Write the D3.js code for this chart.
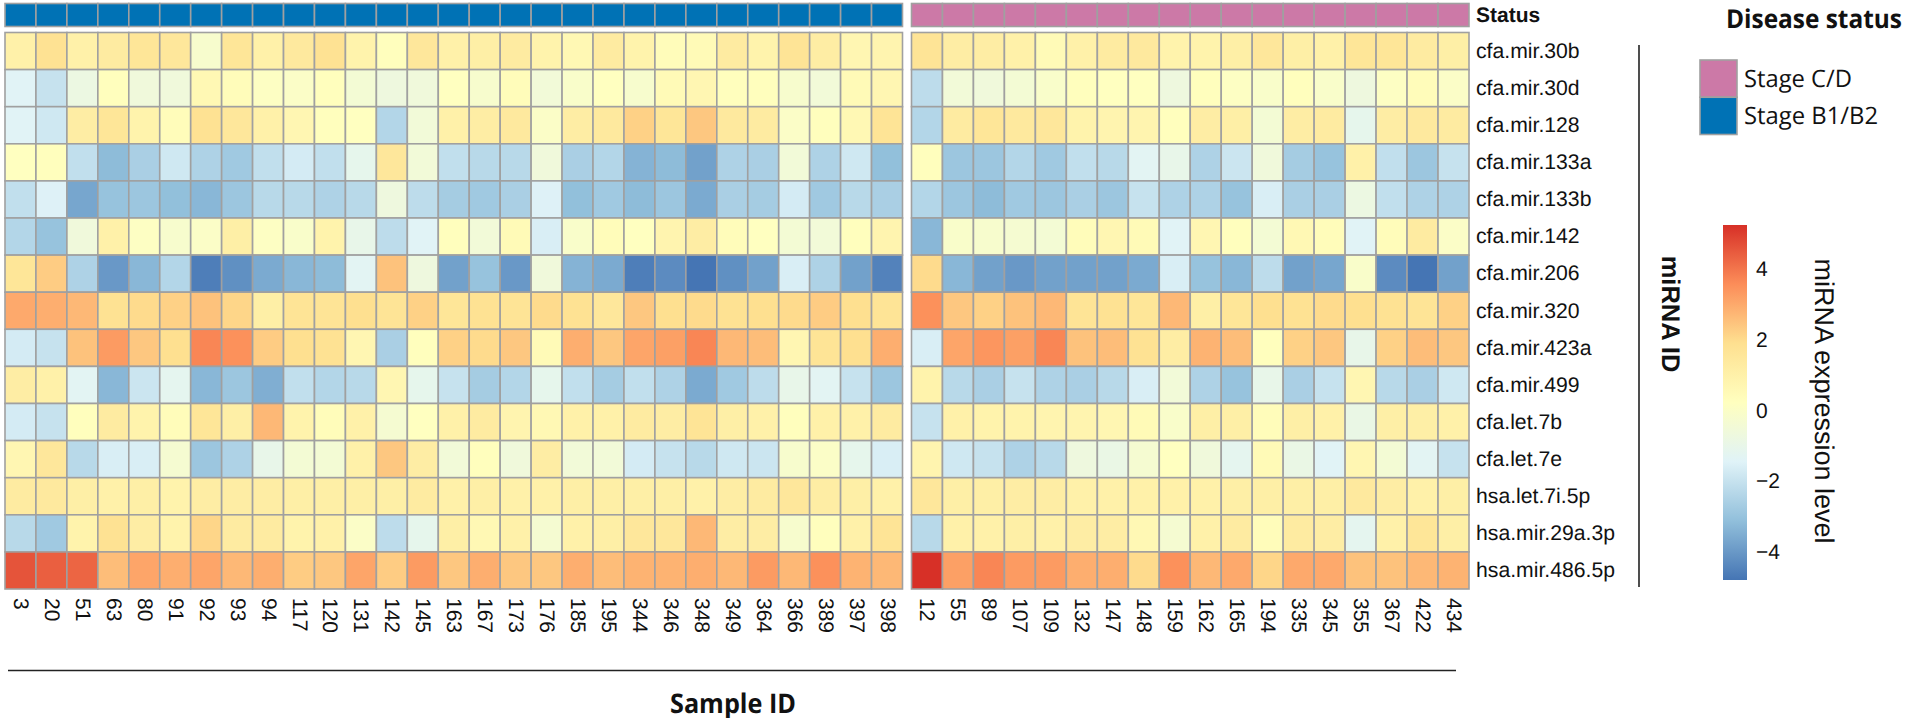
<!DOCTYPE html>
<html>
<head>
<meta charset="utf-8">
<script src="https://cdn.jsdelivr.net/npm/d3@7"></script>
<style>
  html, body { margin: 0; padding: 0; background: #fff; }
  svg { display: block; }
  text { font-family: "Liberation Sans", Arial, sans-serif; fill: #111; text-rendering: geometricPrecision; }
  .label-bold { font-family: "Open Sans", sans-serif; font-weight: 700; }
  .label-legend { font-family: "Open Sans", sans-serif; }
</style>
</head>
<body>
<svg id="chart" width="1908" height="718"></svg>
<script>
const mirnas = ['cfa.mir.30b', 'cfa.mir.30d', 'cfa.mir.128', 'cfa.mir.133a', 'cfa.mir.133b',
  'cfa.mir.142', 'cfa.mir.206', 'cfa.mir.320', 'cfa.mir.423a', 'cfa.mir.499', 'cfa.let.7b',
  'cfa.let.7e', 'hsa.let.7i.5p', 'hsa.mir.29a.3p', 'hsa.mir.486.5p'];

const samplesB = ['3', '20', '51', '63', '80', '91', '92', '93', '94', '117', '120', '131', '142',
  '145', '163', '167', '173', '176', '185', '195', '344', '346', '348', '349', '364', '366', '389',
  '397', '398'];
const samplesCD = ['12', '55', '89', '107', '109', '132', '147', '148', '159', '162', '165', '194',
  '335', '345', '355', '367', '422', '434'];

// expression values, one line per miRNA
const valuesB = [
  [1.0, 1.8, 1.0, 1.3, 1.6, 1.5, -0.2, 1.6, 1.0, 1.4, 1.8, 0.9, 0.3, 1.5, 1.0, 1.1, 1.3, 0.9, 0.6, 1.3, 0.9, 0.4, 0.5, 1.3, 0.9, 1.7, 1.2, 0.7, 0.8],
  [-1.4, -2.0, -0.8, 0.3, -0.6, -0.6, 0.6, 0.4, 0.1, 0.0, 0.3, -0.4, -0.7, -0.6, 0.2, -0.2, 0.4, -0.5, -0.1, 0.2, -0.2, 0.5, 0.7, 0.3, 0.3, -0.2, -0.5, 0.5, 0.7],
  [-1.4, -1.8, 1.2, 1.6, 0.9, 0.4, 1.8, 1.5, 1.0, 0.7, 0.3, 0.2, -2.4, -0.5, 1.0, 1.2, 1.4, 0.0, 1.2, 1.4, 2.2, 1.6, 2.4, 1.4, 1.3, 0.0, 0.3, 0.6, 1.7],
  [0.2, 0.3, -2.1, -3.2, -2.6, -1.8, -2.5, -2.8, -2.1, -1.7, -2.1, -1.1, 1.5, -0.5, -2.1, -2.3, -2.3, -0.6, -2.6, -2.4, -3.4, -3.2, -3.8, -2.5, -2.6, -0.5, -2.5, -1.8, -3.1],
  [-2.1, -1.5, -3.7, -3.0, -2.9, -3.1, -3.3, -2.9, -2.3, -2.3, -2.5, -2.3, -0.7, -2.2, -2.7, -2.8, -2.6, -1.5, -3.1, -2.8, -3.2, -2.9, -3.6, -2.6, -2.7, -1.7, -2.8, -2.3, -2.6],
  [-2.4, -3.0, -0.6, 1.0, 0.1, -0.2, 0.0, 1.1, 0.1, -0.1, 0.9, -1.0, -2.2, -1.4, 0.3, -0.5, 0.5, -1.6, -0.1, 0.4, 0.2, 0.8, 1.2, 0.4, 0.2, -0.4, -0.5, 0.3, 0.8],
  [1.6, 2.3, -2.5, -4.0, -3.3, -2.4, -4.6, -4.2, -3.6, -3.3, -3.2, -1.3, 2.5, -0.7, -3.8, -3.0, -4.0, -0.6, -3.4, -3.6, -4.6, -4.3, -4.8, -4.2, -3.8, -1.6, -2.5, -3.8, -4.5],
  [3.0, 2.9, 2.7, 1.8, 2.0, 2.2, 2.5, 2.1, 1.1, 1.7, 1.7, 1.9, 1.7, 2.2, 1.6, 1.8, 1.7, 2.0, 1.8, 1.5, 2.4, 1.9, 2.0, 1.8, 1.9, 2.0, 2.3, 1.9, 1.7],
  [-1.7, -2.0, 2.5, 3.3, 2.4, 1.9, 3.7, 3.5, 2.3, 1.9, 1.8, 0.7, -2.6, 0.3, 2.2, 2.0, 2.4, 0.5, 2.9, 2.4, 3.1, 3.2, 3.7, 2.7, 2.6, 0.7, 1.7, 1.9, 2.9],
  [1.2, 1.0, -1.3, -3.3, -1.9, -1.2, -3.3, -2.9, -3.5, -2.1, -2.4, -2.3, 0.7, -1.1, -2.0, -2.7, -2.4, -1.1, -2.1, -2.7, -2.1, -2.5, -3.6, -2.8, -2.2, -1.0, -1.3, -2.0, -2.9],
  [-1.7, -2.0, 0.3, 1.3, 0.9, 0.4, 1.6, 1.1, 2.7, 0.9, 0.4, 1.0, -0.3, 0.2, 1.0, 1.3, 0.8, 0.6, 1.0, 1.0, 1.3, 1.2, 1.7, 1.1, 1.0, 0.3, 1.0, 1.0, 1.3],
  [0.7, 1.5, -2.3, -1.6, -1.6, -0.3, -2.9, -2.5, -1.0, -0.4, -0.4, 1.0, 2.4, 1.2, -0.5, 0.3, -0.6, 1.2, -0.5, -0.5, -1.7, -2.0, -2.3, -1.8, -1.9, -0.2, 0.0, -1.1, -1.6],
  [1.3, 1.4, 1.1, 1.0, 1.1, 0.9, 1.2, 1.2, 1.2, 1.1, 1.1, 1.1, 1.1, 1.3, 1.0, 1.1, 1.0, 1.0, 1.1, 1.1, 1.1, 1.1, 1.0, 1.2, 1.3, 1.5, 1.2, 1.1, 1.0],
  [-2.3, -2.8, 0.9, 1.8, 1.2, 0.9, 2.1, 1.3, 1.3, 0.9, 1.0, 0.0, -2.2, -1.1, 1.1, 0.6, 1.0, -0.3, 1.0, 1.1, 1.5, 1.5, 2.7, 1.2, 1.2, -0.2, 0.3, 1.0, 1.7],
  [4.6, 4.4, 4.3, 2.6, 3.1, 2.9, 3.1, 2.7, 2.9, 2.3, 2.4, 3.1, 2.3, 3.3, 2.4, 2.9, 2.4, 2.4, 2.9, 2.6, 2.8, 2.8, 2.9, 2.7, 3.3, 2.7, 3.5, 2.8, 2.7]
];

const valuesCD = [
  [1.7, 1.2, 1.2, 1.0, 0.5, 1.0, 1.3, 1.4, 0.9, 0.9, 1.1, 1.5, 1.1, 1.0, 1.6, 1.6, 1.3, 1.1],
  [-2.2, -0.5, -0.6, -0.4, -0.1, 0.3, 0.2, 0.2, -0.7, 0.3, 0.1, -0.1, 0.3, -0.1, -0.7, 0.1, 0.4, 0.0],
  [-2.4, 1.3, 1.6, 1.4, 1.5, 0.9, 0.8, 0.8, 0.3, 1.2, 1.1, -0.4, 1.2, 1.3, -1.1, 1.2, 1.4, 1.3],
  [0.3, -2.9, -2.9, -2.4, -2.8, -2.1, -2.3, -1.3, -1.0, -2.5, -1.9, -0.6, -2.7, -3.0, 1.0, -2.1, -2.9, -2.0],
  [-2.4, -2.9, -3.2, -2.8, -2.9, -2.6, -2.9, -2.0, -2.5, -2.5, -3.0, -1.6, -2.6, -2.6, -0.8, -2.1, -2.5, -2.5],
  [-3.3, -0.1, -0.2, -0.3, -0.4, 0.4, 0.7, 0.5, -1.4, 0.7, 0.3, -0.4, 0.6, 0.4, -1.4, 0.4, 1.3, 0.0],
  [2.0, -3.3, -3.8, -4.0, -3.8, -3.8, -3.8, -3.6, -1.6, -3.0, -3.3, -2.2, -3.8, -3.7, -0.1, -4.3, -4.8, -3.8],
  [3.5, 2.4, 2.2, 2.5, 2.7, 1.7, 1.8, 1.6, 2.7, 1.1, 1.6, 1.9, 1.8, 2.0, 1.9, 1.8, 1.7, 2.2],
  [-1.6, 3.1, 3.4, 3.2, 3.7, 2.5, 2.6, 1.8, 1.2, 2.8, 2.6, 0.3, 2.2, 2.4, -1.0, 2.2, 2.6, 2.4],
  [0.9, -2.3, -2.6, -2.0, -2.5, -2.6, -2.3, -1.6, -0.5, -2.5, -3.0, -1.0, -2.6, -2.0, 0.7, -2.3, -2.6, -1.8],
  [-2.0, 1.0, 0.9, 0.9, 0.8, 0.8, 0.7, 0.5, -0.1, 1.1, 1.1, 0.4, 1.1, 1.0, -0.9, 1.1, 1.1, 1.0],
  [0.8, -1.8, -2.0, -2.5, -2.3, -0.7, -0.9, -0.3, 0.2, -0.6, -1.2, 0.5, -0.9, -1.4, 0.7, -0.4, -1.3, -2.0],
  [1.5, 1.1, 1.1, 1.2, 1.2, 1.0, 1.0, 1.0, 1.0, 1.0, 1.1, 1.1, 1.1, 1.1, 1.4, 1.2, 1.0, 1.1],
  [-2.3, 1.0, 1.0, 1.1, 1.0, 1.2, 1.2, 0.6, -0.3, 1.0, 1.3, 0.4, 1.3, 1.2, -1.2, 1.0, 1.6, 1.1],
  [5.25, 3.2, 3.7, 3.3, 3.3, 2.9, 2.9, 2.0, 3.5, 2.7, 3.0, 2.1, 3.0, 3.0, 2.5, 2.5, 2.7, 2.8]
];

const statusColors = { 'Stage C/D': '#cc79a7', 'Stage B1/B2': '#0072b5' };
const legendWidths = { 'Stage C/D': 108, 'Stage B1/B2': 134 };
const legendTicks = [-4, -2, 0, 2, 4];
const palette = ['#4575b4', '#91bfdb', '#e0f3f8', '#ffffbf', '#fee090', '#fc8d59', '#d73027'];
const valueRange = [-4.8, 5.25];

const gridGrey = '#a0a0a0';

const svg = d3.select('#chart');

const color = d3.scaleLinear(d3.quantize(d3.interpolate(...valueRange), palette.length), palette);

const y = d3.scaleBand(mirnas, [32.5, 589]);

function drawPanel(samples, values, x0, x1, status) {
  const x = d3.scaleBand(samples, [x0, x1]);
  const panel = svg.append('g').attr('class', 'panel');

  // status strip
  panel.append('g').selectAll('rect')
    .data(samples)
    .join('rect')
    .attr('x', d => x(d))
    .attr('y', 3.5)
    .attr('width', x.bandwidth())
    .attr('height', 23)
    .attr('fill', statusColors[status])
    .attr('stroke', gridGrey)
    .attr('stroke-width', 1.6);

  // heat cells
  panel.append('g').selectAll('g')
    .data(mirnas)
    .join('g')
    .selectAll('rect')
    .data((m, i) => samples.map((s, j) => ({ m, s, v: values[i][j] })))
    .join('rect')
    .attr('x', d => x(d.s))
    .attr('y', d => y(d.m))
    .attr('width', x.bandwidth())
    .attr('height', y.bandwidth())
    .attr('fill', d => color(d.v))
    .attr('stroke', gridGrey)
    .attr('stroke-width', 1.6);

  // sample ids, rotated like pheatmap does
  const xAxis = svg.append('g')
    .attr('transform', 'translate(0,594)')
    .call(d3.axisBottom(x).tickSize(0).tickPadding(0));
  xAxis.select('.domain').remove();
  xAxis.selectAll('text')
    .attr('font-family', null)
    .style('font-size', '21px')
    .attr('text-anchor', 'start')
    .attr('dy', null)
    .attr('y', 0)
    .attr('x', 0)
    .attr('dominant-baseline', 'central')
    .attr('transform', 'rotate(90)translate(4,0)');
}

drawPanel(samplesB, valuesB, 5, 902.5, 'Stage B1/B2');
drawPanel(samplesCD, valuesCD, 911.5, 1469, 'Stage C/D');

// row labels
const yAxis = svg.append('g')
  .attr('transform', 'translate(1476,0)')
  .call(d3.axisRight(y).tickSize(0).tickPadding(0));
yAxis.select('.domain').remove();
yAxis.selectAll('text')
  .attr('font-family', null)
  .style('font-size', '21.2px');

svg.append('text')
  .attr('x', 1476)
  .attr('y', 15)
  .attr('dominant-baseline', 'central')
  .style('font-size', '21px')
  .style('font-weight', 700)
  .text('Status');

// side and bottom rules with their titles
svg.append('line')
  .attr('x1', 1639).attr('x2', 1639)
  .attr('y1', 45).attr('y2', 587)
  .attr('stroke', '#222').attr('stroke-width', 1.6);

svg.append('text')
  .attr('transform', 'translate(1662,314)rotate(90)')
  .attr('text-anchor', 'middle')
  .style('font-size', '25.5px')
  .style('font-weight', 700)
  .text('miRNA ID');

svg.append('line')
  .attr('x1', 8).attr('x2', 1456)
  .attr('y1', 670.5).attr('y2', 670.5)
  .attr('stroke', '#222').attr('stroke-width', 1.6);

// the titles are tall and narrow in the original, textLength squeezes them
svg.append('text')
  .attr('class', 'label-bold')
  .attr('x', 733)
  .attr('y', 702)
  .attr('text-anchor', 'middle')
  .attr('dominant-baseline', 'central')
  .attr('textLength', 126)
  .attr('lengthAdjust', 'spacingAndGlyphs')
  .style('font-size', '27px')
  .text('Sample ID');

// disease status legend
svg.append('text')
  .attr('class', 'label-bold')
  .attr('x', 1726)
  .attr('y', 18)
  .attr('dominant-baseline', 'central')
  .attr('textLength', 176)
  .attr('lengthAdjust', 'spacingAndGlyphs')
  .style('font-size', '26px')
  .text('Disease status');

const legendY = d3.scaleBand(Object.keys(statusColors), [60, 134.5]);
svg.append('g').selectAll('rect')
  .data(legendY.domain())
  .join('rect')
  .attr('x', 1700)
  .attr('y', d => legendY(d))
  .attr('width', 37)
  .attr('height', legendY.bandwidth())
  .attr('fill', d => statusColors[d])
  .attr('stroke', gridGrey)
  .attr('stroke-width', 1.6);

svg.append('g').selectAll('text')
  .data(legendY.domain())
  .join('text')
  .attr('class', 'label-legend')
  .attr('x', 1744)
  .attr('y', d => legendY(d) + legendY.bandwidth() / 2)
  .attr('dominant-baseline', 'central')
  .attr('textLength', d => legendWidths[d])
  .attr('lengthAdjust', 'spacingAndGlyphs')
  .style('font-size', '24px')
  .text(d => d);

// colour bar
const barY = d3.scaleLinear(valueRange, [580, 225]);
const gradient = svg.append('defs').append('linearGradient')
  .attr('id', 'barGradient')
  .attr('x1', 0).attr('x2', 0)
  .attr('y1', 1).attr('y2', 0);
gradient.selectAll('stop')
  .data(palette)
  .join('stop')
  .attr('offset', (d, i) => i / (palette.length - 1))
  .attr('stop-color', d => d);

svg.append('rect')
  .attr('x', 1723)
  .attr('y', barY.range()[1])
  .attr('width', 24)
  .attr('height', barY.range()[0] - barY.range()[1])
  .attr('fill', 'url(#barGradient)');

const barAxis = svg.append('g')
  .attr('transform', 'translate(1747,0)')
  .call(d3.axisRight(barY).tickValues(legendTicks).tickSize(0).tickPadding(9));
barAxis.select('.domain').remove();
barAxis.selectAll('text')
  .attr('font-family', null)
  .style('font-size', '21px');

svg.append('text')
  .attr('transform', 'translate(1815,401)rotate(90)')
  .attr('text-anchor', 'middle')
  .style('font-size', '27px')
  .text('miRNA expression level');
</script>
</body>
</html>
